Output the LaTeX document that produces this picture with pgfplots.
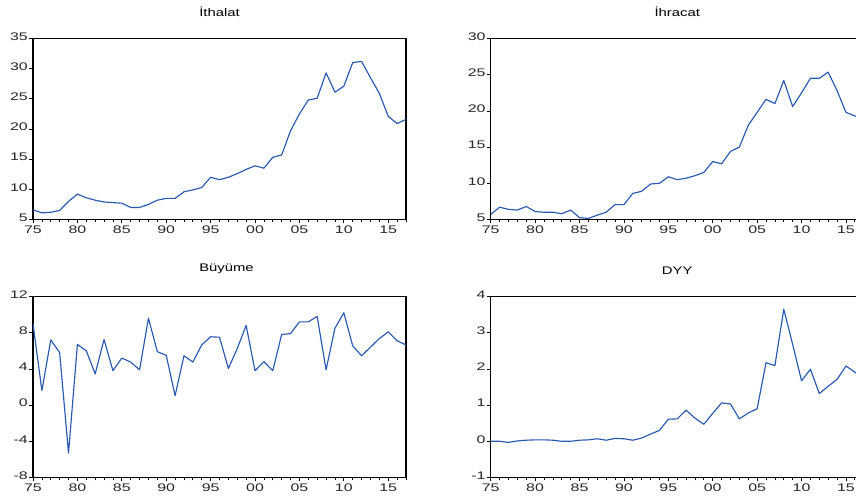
\documentclass[border=0pt]{standalone}
\usepackage{fontspec}
\setmainfont{Liberation Sans}
\newfontfamily\tickfont[FakeStretch=1.45]{Liberation Sans}
\newfontfamily\titlefont[FakeStretch=1.35]{Liberation Sans}
\usepackage{pgfplots}
\pgfplotsset{compat=1.18}
\usepackage{pgfplotstable}
\definecolor{evblue}{RGB}{42,88,176}

\pgfplotstableread{
yr ith ihr buy dyy
1975 6.6 5.7 9.0 0.00
1976 6.1 6.7 1.6 0.00
1977 6.2 6.4 7.2 -0.03
1978 6.5 6.3 5.8 0.01
1979 8.0 6.8 -5.3 0.03
1980 9.2 6.1 6.7 0.04
1981 8.6 6.0 6.0 0.04
1982 8.2 6.0 3.45 0.03
1983 7.9 5.8 7.25 0.00
1984 7.8 6.3 3.8 0.00
1985 7.7 5.25 5.2 0.03
1986 7.0 5.15 4.75 0.04
1987 7.0 5.6 3.9 0.07
1988 7.5 6.0 9.6 0.03
1989 8.2 7.05 5.9 0.08
1990 8.5 7.05 5.5 0.07
1991 8.5 8.6 1.05 0.03
1992 9.6 8.9 5.45 0.09
1993 9.9 9.9 4.75 0.20
1994 10.3 10.0 6.65 0.30
1995 12.0 10.9 7.55 0.61
1996 11.6 10.5 7.5 0.62
1997 12.0 10.7 4.05 0.86
1998 12.6 11.05 6.25 0.64
1999 13.3 11.5 8.8 0.47
2000 13.9 13.0 3.8 0.77
2001 13.5 12.7 4.8 1.06
2002 15.3 14.4 3.8 1.03
2003 15.7 15.0 7.8 0.62
2004 19.7 18.0 7.9 0.78
2005 22.5 19.8 9.2 0.90
2006 24.8 21.6 9.2 2.17
2007 25.1 21.0 9.8 2.09
2008 29.3 24.2 3.9 3.65
2009 26.1 20.6 8.5 2.68
2010 27.1 22.5 10.2 1.67
2011 31.0 24.5 6.55 1.99
2012 31.2 24.5 5.45 1.32
2013 28.5 25.35 6.4 1.52
2014 25.9 22.8 7.35 1.71
2015 22.1 19.8 8.1 2.08
2016 20.9 19.3 7.1 1.91
2017 21.6 19.0 6.65 1.75
}\data

\pgfplotsset{
  ev/.style={
    scale only axis, width=373pt, height=181pt,
    xmin=1975, xmax=2017,
    xtick={1975,1980,...,2015},
    xticklabels={75,80,85,90,95,00,05,10,15},
    minor xtick={1975,...,2017},
    tick align=outside,
    xtick pos=bottom, ytick pos=left,
    major tick length=4pt, minor tick length=3pt,
    axis line style={line width=1.1pt},
    tick style={black, line width=0.7pt},
    /pgf/number format/assume math mode=true,
    ticklabel style={font=\tickfont\fontsize{11}{12}\selectfont, text=black!85},
    yticklabel style={anchor=east, inner sep=1pt, yshift=2pt},
    xticklabel style={anchor=north, inner sep=1pt, yshift=-1pt},
    every axis title shift=0pt,
    title style={font=\titlefont\fontsize{11}{13}\selectfont, at={(0.5,1)}, anchor=base, yshift=21.6pt},
    cycle list={{evblue, no marks}},
    every axis plot/.append style={line width=1.15pt, line join=round},
    anchor=south west,
  }
}

\begin{document}
\begin{tikzpicture}
\useasboundingbox (0,0) rectangle (856pt,500pt);
\clip (0,0) rectangle (856pt,500pt);
\begin{axis}[ev, at={(33pt,280.5pt)}, ymin=5, ymax=35, ytick={5,10,...,35}, title={İthalat}]
\addplot table[x=yr, y=ith] {\data};
\end{axis}
\begin{axis}[ev, at={(490.7pt,280.5pt)}, ymin=5, ymax=30, ytick={5,10,...,30}, title={İhracat}]
\addplot table[x=yr, y=ihr] {\data};
\end{axis}
\begin{axis}[ev, at={(33pt,22.5pt)}, ymin=-8, ymax=12, ytick={-8,-4,...,12}, title={Büyüme}, title style={xshift=7pt, yshift=3.5pt}]
\addplot table[x=yr, y=buy] {\data};
\end{axis}
\begin{axis}[ev, at={(490.7pt,22.5pt)}, ymin=-1, ymax=4, ytick={-1,0,...,4}, title={DYY}]
\addplot table[x=yr, y=dyy] {\data};
\end{axis}
\end{tikzpicture}
\end{document}
